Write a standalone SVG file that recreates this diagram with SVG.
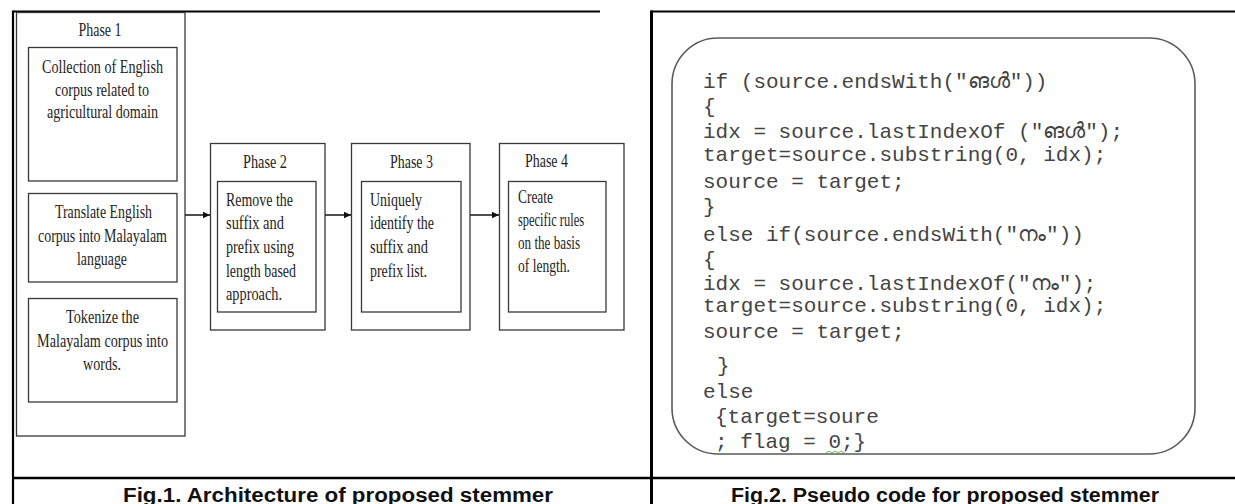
<svg xmlns="http://www.w3.org/2000/svg" width="1235" height="504" viewBox="0 0 1235 504">
  <defs>
    <marker id="arrow" markerUnits="userSpaceOnUse" markerWidth="8" markerHeight="8" refX="7" refY="4" orient="auto">
      <path d="M0,0.8 L7,4 L0,7.2 Z" fill="#111"/>
    </marker>
    <style>
      .rule { stroke: #000; fill: none; }
      .box { fill: #fff; stroke: #383838; stroke-width: 1.3; }
      .serif { font-family: "Liberation Serif", "Times New Roman", serif; font-size: 18px; fill: #1e1e1e; }
      .mid { text-anchor: middle; }
      .code { font-family: "Liberation Mono", "Courier New", monospace; font-size: 21px; fill: #444; }
      .cap { font-family: "Liberation Sans", Arial, sans-serif; font-size: 19.5px; font-weight: bold; fill: #111; text-anchor: middle; }
      .link { stroke: #222; stroke-width: 1.6; fill: none; }
    </style>
  </defs>
  <rect width="1235" height="504" fill="#fff"/>

  <!-- table rules -->
  <g id="table">
    <line class="rule" x1="13" y1="11.5" x2="600" y2="11.5" stroke-width="2"/>
    <line class="rule" x1="651" y1="11.5" x2="1235" y2="11.5" stroke-width="2"/>
    <line class="rule" x1="13" y1="10.5" x2="13" y2="504" stroke-width="2.2"/>
    <line class="rule" x1="651.5" y1="10.5" x2="651.5" y2="504" stroke-width="3"/>
    <line class="rule" x1="12" y1="478" x2="1235" y2="478" stroke-width="2.5"/>
  </g>

  <!-- Phase 1 -->
  <g id="phase1">
    <rect class="box" x="16.5" y="12.5" width="168.5" height="423.5"/>
    <text class="serif mid" x="100" y="36" textLength="43" lengthAdjust="spacingAndGlyphs">Phase 1</text>
    <rect class="box" x="28.5" y="47.5" width="148.5" height="133.5"/>
    <text class="serif mid" x="102.5" y="73" textLength="121" lengthAdjust="spacingAndGlyphs">Collection of English</text>
    <text class="serif mid" x="102" y="96" textLength="94" lengthAdjust="spacingAndGlyphs">corpus related to</text>
    <text class="serif mid" x="102.5" y="118" textLength="111" lengthAdjust="spacingAndGlyphs">agricultural domain</text>
    <rect class="box" x="28.5" y="193.5" width="148.5" height="88.5"/>
    <text class="serif mid" x="103.5" y="218" textLength="97" lengthAdjust="spacingAndGlyphs">Translate English</text>
    <text class="serif mid" x="102.5" y="242" textLength="129" lengthAdjust="spacingAndGlyphs">corpus into Malayalam</text>
    <text class="serif mid" x="102" y="265" textLength="50" lengthAdjust="spacingAndGlyphs">language</text>
    <rect class="box" x="28.5" y="298.5" width="148.5" height="103.5"/>
    <text class="serif mid" x="102.5" y="323" textLength="73" lengthAdjust="spacingAndGlyphs">Tokenize the</text>
    <text class="serif mid" x="102.5" y="347" textLength="131" lengthAdjust="spacingAndGlyphs">Malayalam corpus into</text>
    <text class="serif mid" x="102" y="370" textLength="38" lengthAdjust="spacingAndGlyphs">words.</text>
  </g>

  <!-- Phase 2 -->
  <g id="phase2">
    <rect class="box" x="210.5" y="143.5" width="114.5" height="186.5"/>
    <text class="serif mid" x="265" y="168" textLength="44" lengthAdjust="spacingAndGlyphs">Phase 2</text>
    <rect class="box" x="217.5" y="181.5" width="98.5" height="130.5"/>
    <text class="serif" x="226" y="206" textLength="67" lengthAdjust="spacingAndGlyphs">Remove the</text>
    <text class="serif" x="226" y="229" textLength="58" lengthAdjust="spacingAndGlyphs">suffix and</text>
    <text class="serif" x="226" y="253" textLength="68" lengthAdjust="spacingAndGlyphs">prefix using</text>
    <text class="serif" x="226" y="277" textLength="70" lengthAdjust="spacingAndGlyphs">length based</text>
    <text class="serif" x="226" y="300" textLength="56" lengthAdjust="spacingAndGlyphs">approach.</text>
  </g>

  <!-- Phase 3 -->
  <g id="phase3">
    <rect class="box" x="351.5" y="143.5" width="118.5" height="186.5"/>
    <text class="serif mid" x="411.5" y="168" textLength="43" lengthAdjust="spacingAndGlyphs">Phase 3</text>
    <rect class="box" x="361.5" y="181.5" width="99.5" height="130.5"/>
    <text class="serif" x="370" y="206" textLength="52" lengthAdjust="spacingAndGlyphs">Uniquely</text>
    <text class="serif" x="370" y="229" textLength="64" lengthAdjust="spacingAndGlyphs">identify the</text>
    <text class="serif" x="370" y="253" textLength="58" lengthAdjust="spacingAndGlyphs">suffix and</text>
    <text class="serif" x="370" y="277" textLength="57" lengthAdjust="spacingAndGlyphs">prefix list.</text>
  </g>

  <!-- Phase 4 -->
  <g id="phase4">
    <rect class="box" x="499.5" y="143.5" width="124.5" height="186.5"/>
    <text class="serif mid" x="546.5" y="167" textLength="43" lengthAdjust="spacingAndGlyphs">Phase 4</text>
    <rect class="box" x="508.5" y="181.5" width="97.5" height="130.5"/>
    <text class="serif" x="518" y="203" textLength="35" lengthAdjust="spacingAndGlyphs">Create</text>
    <text class="serif" x="518" y="226" textLength="66" lengthAdjust="spacingAndGlyphs">specific rules</text>
    <text class="serif" x="518" y="249" textLength="62" lengthAdjust="spacingAndGlyphs">on the basis</text>
    <text class="serif" x="518" y="272" textLength="52" lengthAdjust="spacingAndGlyphs">of length.</text>
  </g>

  <!-- flow between phases -->
  <g id="connectors">
    <line class="link" x1="185" y1="215" x2="210" y2="215" marker-end="url(#arrow)"/>
    <line class="link" x1="325" y1="215" x2="351" y2="215" marker-end="url(#arrow)"/>
    <line class="link" x1="470" y1="215" x2="499" y2="215" marker-end="url(#arrow)"/>
  </g>

  <!-- pseudo code panel -->
  <g id="pseudocode">
    <rect x="672" y="38" width="523" height="416" rx="46" ry="46" fill="#fff" stroke="#5a5a5a" stroke-width="1.6"/>
    <text class="code" x="703" y="88">if (source.endsWith("ങൾ"))</text>
    <text class="code" x="703" y="113">{</text>
    <text class="code" x="703" y="138">idx = source.lastIndexOf ("ങൾ");</text>
    <text class="code" x="703" y="161">target=source.substring(0, idx);</text>
    <text class="code" x="703" y="188">source = target;</text>
    <text class="code" x="703" y="213">}</text>
    <text class="code" x="703" y="241">else if(source.endsWith("നം"))</text>
    <text class="code" x="703" y="266">{</text>
    <text class="code" x="703" y="290">idx = source.lastIndexOf("നം");</text>
    <text class="code" x="703" y="312">target=source.substring(0, idx);</text>
    <text class="code" x="703" y="338">source = target;</text>
    <text class="code" x="717" y="372">}</text>
    <text class="code" x="703" y="398">else</text>
    <text class="code" x="715" y="423">{target=soure</text>
    <text class="code" x="715" y="448">; flag = 0;}</text>
    <path d="M826,453 l3,-2 l3,2 l3,-2 l3,2 l3,-2 l3,2" fill="none" stroke="#5cb85c" stroke-width="1"/>
  </g>

  <!-- captions -->
  <g id="captions">
    <text class="cap" x="338" y="502" textLength="430" lengthAdjust="spacingAndGlyphs">Fig.1. Architecture of proposed stemmer</text>
    <text class="cap" x="945" y="502" textLength="428" lengthAdjust="spacingAndGlyphs">Fig.2. Pseudo code for proposed stemmer</text>
  </g>
</svg>
